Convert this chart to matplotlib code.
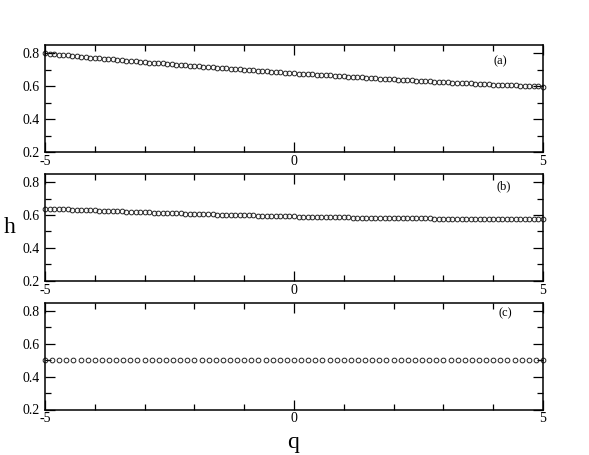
import matplotlib
matplotlib.use("Agg")
import matplotlib.pyplot as plt
from matplotlib.ticker import MultipleLocator, FixedLocator
import numpy as np

plt.rcParams['font.family'] = ['Liberation Serif', 'DejaVu Serif']
plt.rcParams['mathtext.fontset'] = 'stix'

# q grids
q_ab = np.linspace(-5, 5, 111)
q_c = np.linspace(-5, 5, 71)

# panel (a)
h_a = [0.800, 0.797, 0.795, 0.792, 0.790, 0.788, 0.785, 0.783, 0.780, 0.778,
       0.775, 0.773, 0.771, 0.768, 0.766, 0.764, 0.761, 0.759, 0.757, 0.754,
       0.752, 0.750, 0.747, 0.745, 0.743, 0.741, 0.739, 0.736, 0.734, 0.732,
       0.730, 0.728, 0.726, 0.723, 0.721, 0.719, 0.717, 0.715, 0.713, 0.711,
       0.709, 0.707, 0.705, 0.703, 0.701, 0.699, 0.697, 0.695, 0.693, 0.691,
       0.689, 0.687, 0.686, 0.684, 0.682, 0.680, 0.678, 0.676, 0.675, 0.673,
       0.671, 0.669, 0.667, 0.666, 0.664, 0.662, 0.661, 0.659, 0.657, 0.656,
       0.654, 0.652, 0.651, 0.649, 0.647, 0.646, 0.644, 0.643, 0.641, 0.640,
       0.638, 0.637, 0.635, 0.634, 0.632, 0.631, 0.629, 0.628, 0.626, 0.625,
       0.623, 0.622, 0.621, 0.619, 0.618, 0.617, 0.615, 0.614, 0.613, 0.611,
       0.610, 0.609, 0.608, 0.606, 0.605, 0.604, 0.603, 0.601, 0.600, 0.599,
       0.598]

# panel (b)
h_b = [0.640, 0.639, 0.638, 0.637, 0.635, 0.634, 0.633, 0.632, 0.631, 0.630,
       0.629, 0.628, 0.627, 0.626, 0.625, 0.624, 0.623, 0.622, 0.621, 0.620,
       0.619, 0.618, 0.617, 0.616, 0.615, 0.614, 0.613, 0.612, 0.611, 0.611,
       0.610, 0.609, 0.608, 0.607, 0.606, 0.606, 0.605, 0.604, 0.603, 0.603,
       0.602, 0.601, 0.600, 0.600, 0.599, 0.598, 0.598, 0.597, 0.596, 0.596,
       0.595, 0.594, 0.594, 0.593, 0.593, 0.592, 0.591, 0.591, 0.590, 0.590,
       0.589, 0.589, 0.588, 0.588, 0.587, 0.587, 0.586, 0.586, 0.585, 0.585,
       0.585, 0.584, 0.584, 0.583, 0.583, 0.583, 0.582, 0.582, 0.582, 0.581,
       0.581, 0.581, 0.580, 0.580, 0.580, 0.580, 0.579, 0.579, 0.579, 0.579,
       0.579, 0.578, 0.578, 0.578, 0.578, 0.578, 0.578, 0.578, 0.577, 0.577,
       0.577, 0.577, 0.577, 0.577, 0.577, 0.577, 0.577, 0.577, 0.577, 0.577,
       0.577]

# panel (c): flat at 0.5
h_c = [0.5] * 71

panels = [(q_ab, h_a, "(a)", 0.666, (0.914, 0.846)),
          (q_ab, h_b, "(b)", 0.383, (0.921, 0.888)),
          (q_c, h_c, "(c)", 0.100, (0.924, 0.900))]

fig = plt.figure(figsize=(5.89, 4.55), dpi=100)

for q, h, label, bottom, lpos in panels:
    ax = fig.add_axes([0.0764, bottom, 0.8455, 0.2345])
    ax.plot(q, h, linestyle="none", marker="o", markersize=3.4,
            markerfacecolor="none", markeredgecolor="#222222",
            markeredgewidth=0.7, clip_on=False)
    ax.set_xlim(-5, 5)
    ax.set_ylim(0.2, 0.85)
    ax.xaxis.set_major_locator(FixedLocator([-5, 0, 5]))
    ax.xaxis.set_minor_locator(MultipleLocator(1))
    ax.yaxis.set_major_locator(FixedLocator([0.2, 0.4, 0.6, 0.8]))
    ax.yaxis.set_minor_locator(FixedLocator([0.3, 0.5, 0.7]))
    ax.set_xticklabels(["-5", "0", "5"])
    ax.set_yticklabels(["0.2", "0.4", "0.6", "0.8"])
    ax.tick_params(which="both", direction="in", top=True, right=True,
                   labelsize=10, width=0.9, pad=2)
    ax.tick_params(which="major", length=7)
    ax.tick_params(which="minor", length=4.5)
    ax.tick_params(axis="y", pad=4)
    for s in ax.spines.values():
        s.set_linewidth(1.1)
    ax.text(lpos[0], lpos[1], label, transform=ax.transAxes,
            ha="center", va="center", fontsize=9)

fig.text(0.016, 0.50, "h", ha="center", va="center", fontsize=17)
fig.text(0.498, 0.027, "q", ha="center", va="center", fontsize=17)

fig.savefig("out.png", dpi=100)
